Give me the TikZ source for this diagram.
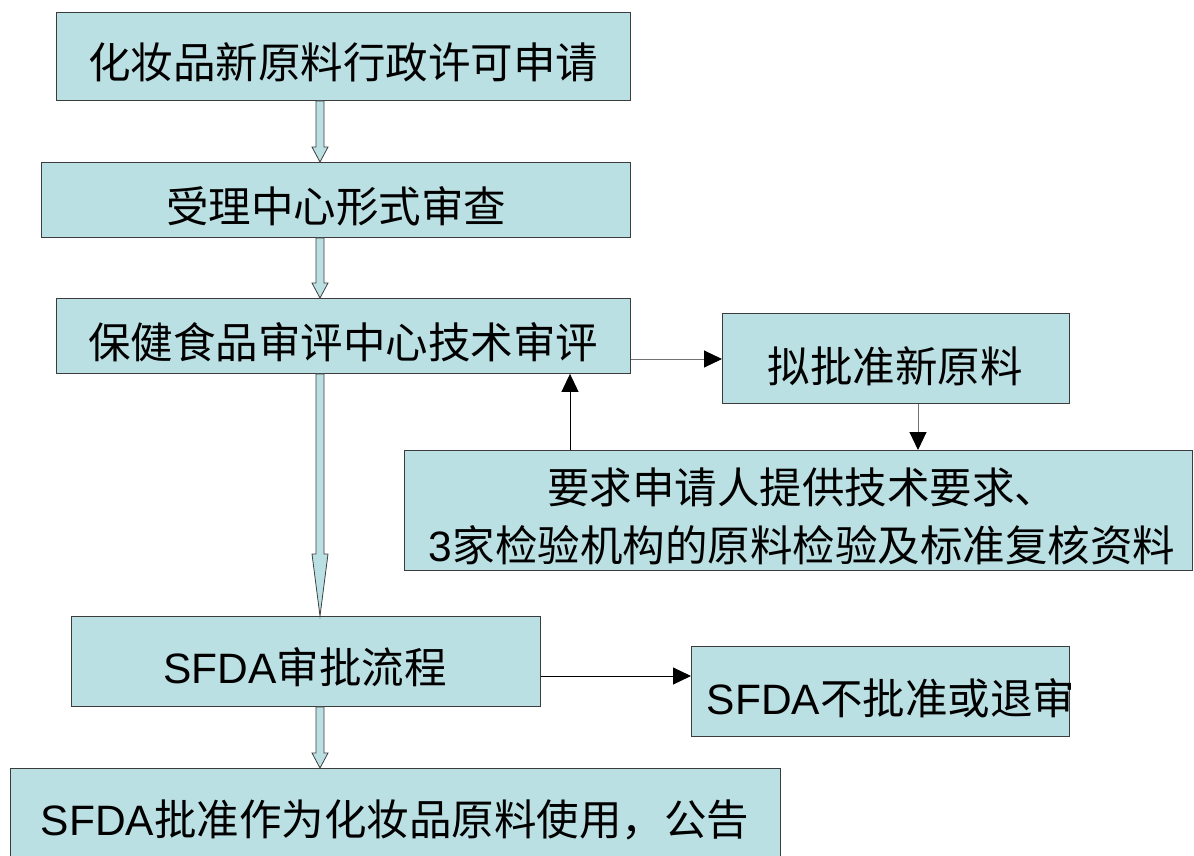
\documentclass[tikz,border=0pt]{standalone}
\usepackage{fontspec}
\setmainfont{Noto Sans CJK SC}
\newfontfamily\lat{Liberation Sans}
\usetikzlibrary{arrows.meta,calc}
\definecolor{boxfill}{RGB}{187,224,227}
\definecolor{edge}{RGB}{60,60,60}
\tikzset{
  box/.style={draw=edge, line width=0.9pt, fill=boxfill, inner sep=0pt, anchor=north west},
  txt/.style={font=\fontsize{42.5}{58}\selectfont, inner sep=0pt, align=center},
  thin/.style={line width=1pt, -{Triangle[length=18pt,width=17pt,color=black]}},
}
\newcommand\blockarr[3]{%
  \path let \p1=(#1), \p2=(#2) in [draw=black!75, line width=0.8pt, fill=boxfill]
    (\x1-4pt,\y1) -- (\x1-4pt,\y2+#3pt) -- (\x1-8pt,\y2+#3pt) -- (\x1,\y2)
    -- (\x1+8pt,\y2+#3pt) -- (\x1+4pt,\y2+#3pt) -- (\x1+4pt,\y1) -- cycle;}
\begin{document}
\begin{tikzpicture}[x=1pt,y=-1pt]
\useasboundingbox (0,0) rectangle (1194,855);
\clip (0,0) rectangle (1194,855);
\fill[white] (0,0) rectangle (1194,855);
% boxes
\node[box, minimum width=574pt, minimum height=88pt] (n1) at (56,12) {};
\node[box, minimum width=589pt, minimum height=75pt] (n2) at (41,162) {};
\node[box, minimum width=574pt, minimum height=75pt] (n3) at (56,298) {};
\node[box, minimum width=347pt, minimum height=90pt] (n4) at (722,313) {};
\node[box, minimum width=788pt, minimum height=120pt] (n5) at (404,450) {};
\node[box, minimum width=469pt, minimum height=90pt] (n6) at (71,616) {};
\node[box, minimum width=378pt, minimum height=90pt] (n7) at (691,646) {};
\node[box, minimum width=770pt, minimum height=110pt] (n8) at (10,768) {};
% texts
\node[txt] (t1) at (343,62) {化妆品新原料行政许可申请};
\node[txt] (t2) at (336,206) {受理中心形式审查};
\node[txt] (t3) at (343,342) {保健食品审评中心技术审评};
\node[txt] (t4) at (895,366) {拟批准新原料};
\node[txt] (t5) at (802,516) {要求申请人提供技术要求、\\{\lat 3}家检验机构的原料检验及标准复核资料};
\node[txt] (t6) at (305,667) {{\lat SFDA}审批流程};
\node[txt] (t7) at (891,698) {{\lat SFDA}不批准或退审};
\node[txt] (t8) at (395,820) {{\lat SFDA}批准作为化妆品原料使用，公告};
% block arrows
\coordinate (ax) at (320,0);
\blockarr{n1.south -| ax}{n2.north -| ax}{15}
\blockarr{n2.south -| ax}{n3.north -| ax}{15}
\blockarr{n3.south -| ax}{n6.north -| ax}{62}
\blockarr{n6.south -| ax}{n8.north -| ax}{15}
% thin arrows
\coordinate (c34) at (0,359);
\coordinate (x45) at (918,0);
\coordinate (x53) at (570,0);
\coordinate (c67) at (0,676);
\draw[thin, draw=black!55] (n3.east |- c34) -- (n4.west |- c34);
\draw[thin, draw=black!55] (n4.south -| x45) -- (n5.north -| x45);
\draw[thin, draw=black] (n5.north -| x53) -- (n3.south -| x53);
\draw[thin, draw=black] (n6.east |- c67) -- (n7.west |- c67);
\end{tikzpicture}
\end{document}
